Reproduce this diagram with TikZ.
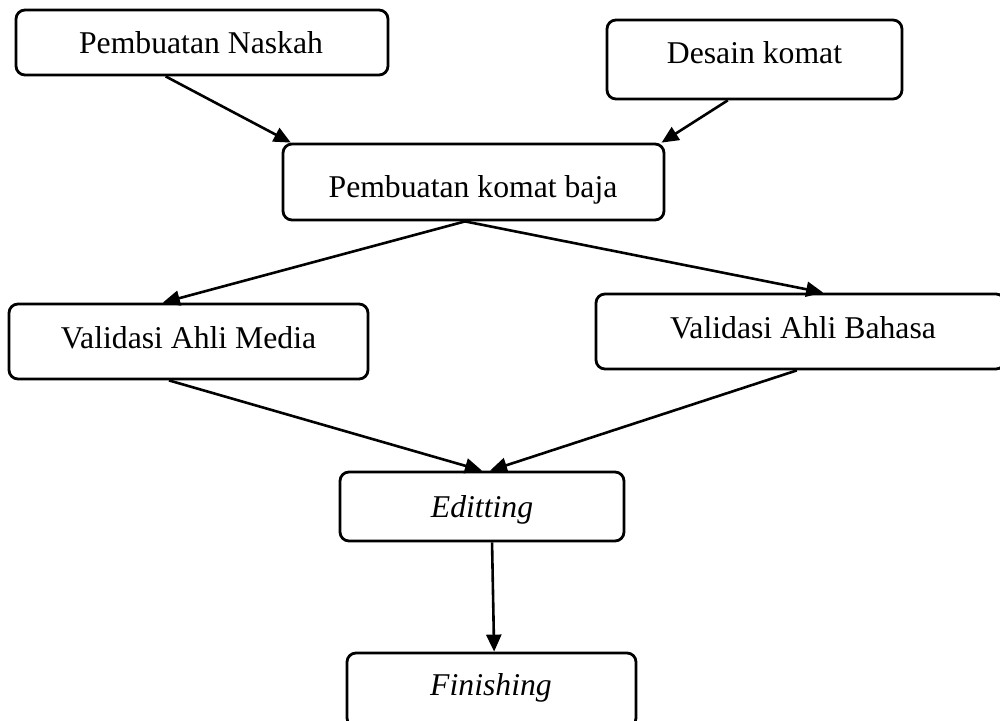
\documentclass[tikz,border=0pt]{standalone}
\usepackage{fontspec}
\setmainfont{Liberation Serif}
\usetikzlibrary{arrows.meta,calc}
\begin{document}
\begin{tikzpicture}[x=1pt,y=-1pt,
  box/.style={draw, line width=2.8pt, rounded corners=9pt, rectangle, inner sep=0pt, fill=none},
  lbl/.style={anchor=base, inner sep=0pt, font=\fontsize{31.7pt}{38pt}\selectfont},
  conn/.style={line width=2.6pt, -{Triangle[length=17pt,width=15pt]}}]
\useasboundingbox (0,0) rectangle (1000,720);
% boxes
\node[box, minimum width=372pt, minimum height=65pt] (n1) at (202,42.5) {};
\node[box, minimum width=295pt, minimum height=79pt] (n2) at (754.5,59.5) {};
\node[box, minimum width=381pt, minimum height=76pt] (n3) at (473.5,182) {};
\node[box, minimum width=359pt, minimum height=75pt] (n4) at (188.5,341.5) {};
\node[box, minimum width=409pt, minimum height=75pt] (n5) at (800.5,331.5) {};
\node[box, minimum width=284pt, minimum height=69pt] (n6) at (482,506.5) {};
\node[box, minimum width=289pt, minimum height=74pt] (n7) at (491.5,690) {};
% texts
\node[lbl] (t1) at (201,53) {Pembuatan Naskah};
\node[lbl] (t2) at (754.5,63) {Desain komat};
\node[lbl] (t3) at (473,197) {Pembuatan komat baja};
\node[lbl] (t4) at (188.5,348) {Validasi Ahli Media};
\node[lbl] (t5) at (803,338) {Validasi Ahli Bahasa};
\node[lbl] (t6) at (482,517) {\itshape Editting};
\node[lbl] (t7) at (491,695) {\itshape Finishing};
% connectors
\draw[conn] ($(n1.south west)!0.403!(n1.south east)$) -- ($(n3.north west)!0.024!(n3.north east)$);
\draw[conn] ($(n2.south west)!0.41!(n2.south east)$) -- ($(n3.north west)!0.99!(n3.north east)$);
\draw[conn] ($(n3.south west)!0.478!(n3.south east)$) -- ($(n4.north west)!0.429!(n4.north east)$);
\draw[conn] ($(n3.south west)!0.478!(n3.south east)$) -- ($(n5.north west)!0.555!(n5.north east)$);
\draw[conn] ($(n4.south west)!0.446!(n4.south east)$) -- ($(n6.north west)!0.5!(n6.north east)$);
\draw[conn] ($(n5.south west)!0.491!(n5.south east)$) -- ($(n6.north west)!0.528!(n6.north east)$);
\draw[conn] ($(n6.south west)!0.535!(n6.south east)$) -- ($(n7.north west)!0.509!(n7.north east)$);
\end{tikzpicture}
\end{document}
